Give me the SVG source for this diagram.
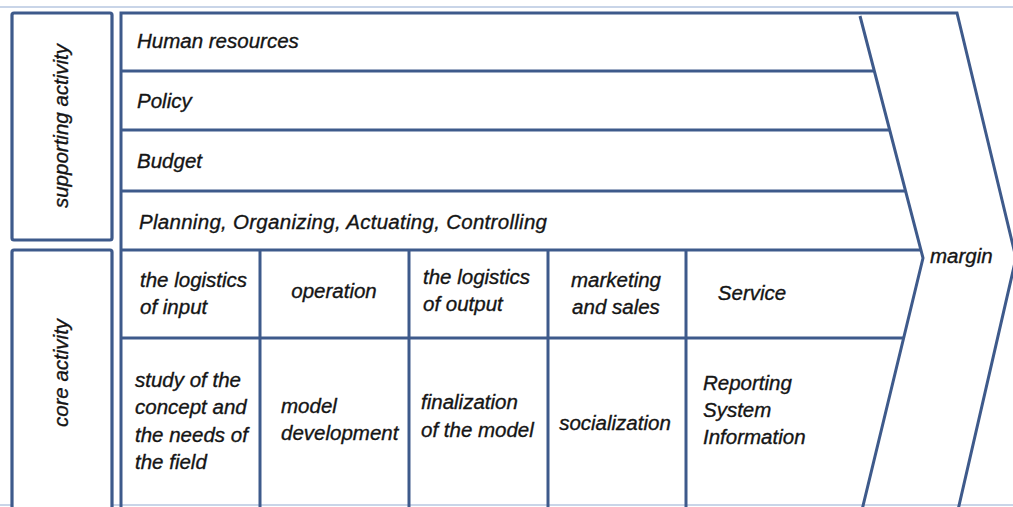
<svg xmlns="http://www.w3.org/2000/svg" width="1013" height="507" viewBox="0 0 1013 507">
<style>
.ln{stroke:#3e5a8b;stroke-width:3;fill:none;stroke-linejoin:miter}
.bx{stroke:#3e5a8b;stroke-width:3.2;fill:#fff}
.t{font-family:"Liberation Sans",Arial,sans-serif;font-style:italic;font-size:20.5px;fill:#151515;stroke:#151515;stroke-width:0.35}
.m{text-anchor:middle}
</style>
<rect x="0" y="0" width="1013" height="507" fill="#fff"/>
<line x1="0" y1="7" x2="1013" y2="7" stroke="#c9d5e8" stroke-width="2"/>
<line x1="0" y1="505" x2="1013" y2="505" stroke="#c9d5e8" stroke-width="2"/>
<g id="supporting-activity">
<rect class="bx" x="12" y="13" width="100" height="227" rx="2"/>
<text class="t m" transform="translate(68 126) rotate(-90)">supporting activity</text>
</g>
<g id="core-activity">
<rect class="bx" x="12" y="250" width="100" height="270" rx="2"/>
<text class="t m" transform="translate(68 373) rotate(-90)">core activity</text>
</g>
<g id="frame">
<path class="ln" d="M121 510 V13 H957 L1016 258 L958 510"/>
<path class="ln" d="M860 16 L923 258 L862 510"/>
<line class="ln" x1="121" y1="71" x2="874" y2="71"/>
<line class="ln" x1="121" y1="130" x2="889" y2="130"/>
<line class="ln" x1="121" y1="191" x2="905" y2="191"/>
<line class="ln" x1="121" y1="250" x2="920" y2="250"/>
<line class="ln" x1="121" y1="338" x2="903" y2="338"/>
<line class="ln" x1="260" y1="250" x2="260" y2="510"/>
<line class="ln" x1="409" y1="250" x2="409" y2="510"/>
<line class="ln" x1="548" y1="250" x2="548" y2="510"/>
<line class="ln" x1="686" y1="250" x2="686" y2="510"/>
</g>
<g id="human-resources"><text class="t" x="137" y="48">Human resources</text></g>
<g id="policy"><text class="t" x="137" y="108">Policy</text></g>
<g id="budget"><text class="t" x="137" y="168">Budget</text></g>
<g id="poac"><text class="t" x="139" y="229" textLength="408">Planning, Organizing, Actuating, Controlling</text></g>
<g id="logistics-input"><text class="t" x="140" y="287">the logistics</text><text class="t" x="140" y="314">of input</text></g>
<g id="operation"><text class="t m" x="334" y="298">operation</text></g>
<g id="logistics-output"><text class="t" x="423" y="284">the logistics</text><text class="t" x="423" y="311">of output</text></g>
<g id="marketing"><text class="t m" x="616" y="287">marketing</text><text class="t m" x="616" y="314">and sales</text></g>
<g id="service"><text class="t m" x="752" y="300">Service</text></g>
<g id="study"><text class="t" x="135" y="387">study of the</text><text class="t" x="135" y="414">concept and</text><text class="t" x="135" y="442">the needs of</text><text class="t" x="135" y="469">the field</text></g>
<g id="model-dev"><text class="t" x="281" y="413">model</text><text class="t" x="281" y="440">development</text></g>
<g id="finalization"><text class="t" x="421" y="409">finalization</text><text class="t" x="421" y="437">of the model</text></g>
<g id="socialization"><text class="t m" x="615" y="430">socialization</text></g>
<g id="reporting"><text class="t" x="703" y="390">Reporting</text><text class="t" x="703" y="417">System</text><text class="t" x="703" y="444">Information</text></g>
<g id="margin"><text class="t" x="930" y="263">margin</text></g>
</svg>
